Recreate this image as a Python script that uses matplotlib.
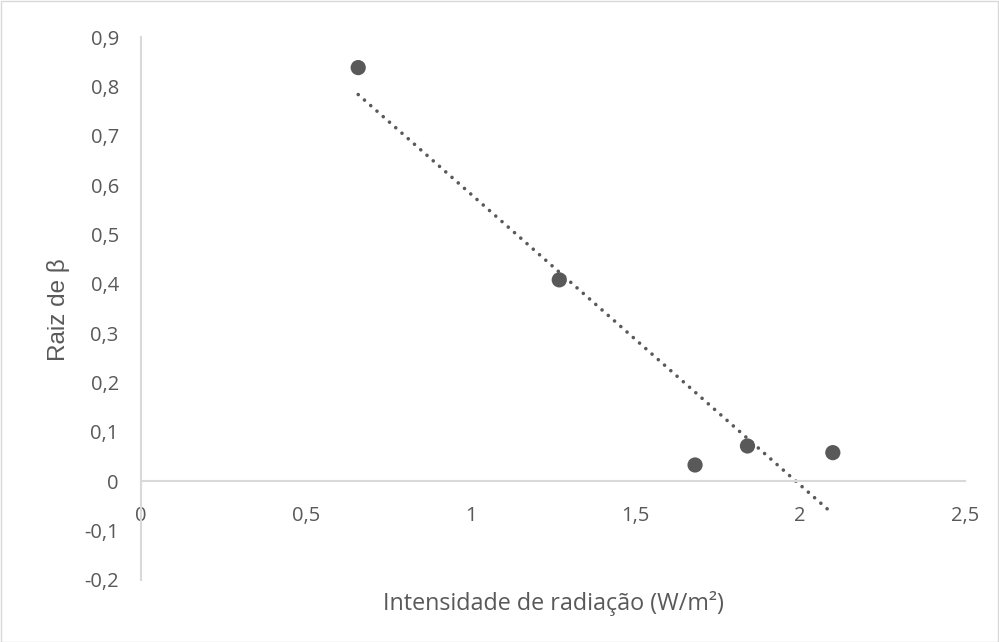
import numpy as np
import matplotlib
matplotlib.use("Agg")
import matplotlib.pyplot as plt
from matplotlib.patches import Rectangle

# Data
intensity = [0.659, 1.269, 1.681, 1.840, 2.099]
raiz_beta = [0.838, 0.408, 0.033, 0.0715, 0.058]

x_ticks = [0, 0.5, 1, 1.5, 2, 2.5]
x_tick_labels = ["0", "0,5", "1", "1,5", "2", "2,5"]
y_ticks = [-0.2, -0.1, 0, 0.1, 0.2, 0.3, 0.4, 0.5, 0.6, 0.7, 0.8, 0.9]
y_tick_labels = ["-0,2", "-0,1", "0", "0,1", "0,2", "0,3", "0,4", "0,5", "0,6", "0,7", "0,8", "0,9"]

xlabel = "Intensidade de radiação (W/m²)"
ylabel = "Raiz de β"

plt.rcParams['font.family'] = ['Open Sans', 'DejaVu Sans']
txt = "#595959"
axis_col = "#d9d9d9"

fig = plt.figure(figsize=(9.99, 6.42), dpi=100)
ax = fig.add_axes([141/999, 1-580/642, (965-141)/999, (580-37)/642])

# trendline (linear fit)
x = np.array(intensity)
y = np.array(raiz_beta)
m, b = np.polyfit(x, y, 1)
xs = np.array([x.min(), x.max()])
ax.plot(xs, m*xs + b, color=txt, lw=2.6, linestyle=(0, (0.01, 2.3)),
        dash_capstyle='round', zorder=2)

ax.scatter(intensity, raiz_beta, s=120, color=txt, edgecolors='none', zorder=3)

ax.set_xlim(0, 2.5)
ax.set_ylim(-0.2, 0.9)
ax.set_xticks(x_ticks)
ax.set_xticklabels(x_tick_labels)
ax.set_yticks(y_ticks)
ax.set_yticklabels(y_tick_labels)

for s in ['top', 'right']:
    ax.spines[s].set_visible(False)
ax.spines['bottom'].set_position(('data', 0))
ax.spines['bottom'].set_color(axis_col)
ax.spines['left'].set_color(axis_col)
ax.spines['bottom'].set_linewidth(1.5)
ax.spines['left'].set_linewidth(1.5)

ax.tick_params(axis='both', length=0, labelsize=14.5, labelcolor=txt)
ax.tick_params(axis='x', pad=18)
ax.tick_params(axis='y', pad=16)

fig.text(553/999, 1-604/642, xlabel, ha='center', va='center',
         fontsize=16.8, color=txt)
fig.text(59/999, 1-310/642, ylabel, ha='center', va='center',
         rotation=90, fontsize=17.5, color=txt,
         family=['Liberation Sans', 'DejaVu Sans'])

fig.patches.append(Rectangle((0.5/999, 0.5/642), 1-1.5/999, 1-1.5/642,
                             transform=fig.transFigure, fill=False,
                             edgecolor=axis_col, lw=1.0))

fig.savefig("out.png", dpi=100)
